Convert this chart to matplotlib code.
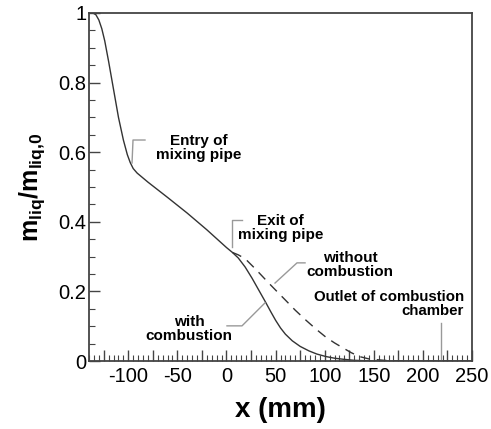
import matplotlib
matplotlib.use("Agg")
import matplotlib.pyplot as plt
from matplotlib.ticker import MultipleLocator, FuncFormatter

plt.rcParams['font.family'] = ['Liberation Sans', 'DejaVu Sans']
plt.rcParams['mathtext.fontset'] = 'custom'
plt.rcParams['mathtext.rm'] = 'Liberation Sans'
plt.rcParams['mathtext.bf'] = 'Liberation Sans:bold'

# liquid mass ratio along the axis, with combustion (solid)
x_with = [-140, -136, -133, -130, -127, -124, -120, -115, -110, -105, -101, -98,
          -95, -91, -80, -60, -40, -20, 0, 6, 12, 19, 26, 33, 40, 45, 50, 55,
          60, 67, 75, 84, 92, 101, 110, 119, 130, 140, 150, 200, 250]
y_with = [1.0, 1.0, 0.995, 0.98, 0.955, 0.92, 0.86, 0.78, 0.70, 0.635, 0.593, 0.570,
          0.553, 0.540, 0.514, 0.470, 0.425, 0.377, 0.326, 0.312, 0.296, 0.270,
          0.238, 0.203, 0.168, 0.142, 0.117, 0.095, 0.077, 0.058, 0.042, 0.029,
          0.020, 0.013, 0.008, 0.005, 0.002, 0.001, 0.0, 0.0, 0.0]

# without combustion (dashed), branches off at the pipe exit
x_without = [6, 12, 19, 30, 43, 52, 60, 70, 81, 91, 101, 110, 119, 127, 135,
             145, 160, 180, 250]
y_without = [0.312, 0.305, 0.294, 0.263, 0.224, 0.198, 0.175, 0.146, 0.117,
             0.092, 0.069, 0.052, 0.037, 0.024, 0.013, 0.006, 0.002, 0.0, 0.0]

fig = plt.figure(figsize=(4.91, 4.29), dpi=100)
ax = fig.add_axes([0.1813, 0.1585, 0.780, 0.8112])

ax.plot(x_with, y_with, color='#333333', lw=1.0)
ax.plot(x_without, y_without, color='#333333', lw=1.0, dashes=(7, 5))

ax.set_xlim(-140, 250)
ax.set_ylim(0, 1)

ax.xaxis.set_major_locator(MultipleLocator(25))
ax.xaxis.set_minor_locator(MultipleLocator(5))
ax.xaxis.set_major_formatter(FuncFormatter(lambda v, p: '%d' % v if v % 50 == 0 else ''))
ax.yaxis.set_major_locator(MultipleLocator(0.2))
ax.yaxis.set_minor_locator(MultipleLocator(0.05))
ax.yaxis.set_major_formatter(FuncFormatter(lambda v, p: '%g' % round(v, 2)))

ax.tick_params(which='both', direction='in', colors='#444444', labelcolor='black',
               top=False, right=False)
ax.tick_params(which='major', length=8, width=1, labelsize=14.5)
ax.tick_params(axis='y', which='major', pad=2)
ax.tick_params(axis='x', which='major', pad=4)
ax.tick_params(which='minor', length=4, width=0.8)
for s in ax.spines.values():
    s.set_color('#444444')
    s.set_linewidth(1.3)

ax.set_xlabel('x (mm)', fontsize=20, fontweight='bold', labelpad=8)
ax.set_ylabel(r'$\mathbf{m_{liq}/m_{liq{,}0}}$', fontsize=18, labelpad=8)

lead = dict(color='#999999', lw=1.0)
tfont = dict(fontsize=11, fontweight='bold', ha='center', va='center',
             linespacing=1.0)

ax.plot([-96.2, -95.2, -83], [0.569, 0.635, 0.635], **lead)
ax.text(-28, 0.612, 'Entry of\nmixing pipe', **tfont)

ax.plot([5.6, 5.6, 15.8], [0.328, 0.405, 0.405], **lead)
ax.text(55, 0.381, 'Exit of\nmixing pipe', **tfont)

ax.plot([49.4, 71.8, 80], [0.224, 0.282, 0.282], **lead)
ax.text(125.8, 0.276, 'without\ncombustion', **tfont)

ax.plot([39.2, 15.8, 0.5], [0.167, 0.101, 0.101], **lead)
ax.text(-38, 0.093, 'with\ncombustion', **tfont)

ax.plot([218.5, 218.5], [0.109, 0.0], **lead)
ax.text(241.9, 0.165, 'Outlet of combustion\nchamber', fontsize=10.8,
        fontweight='bold', ha='right', va='center', ma='right', linespacing=1.0)

fig.savefig('out.png', dpi=100)
